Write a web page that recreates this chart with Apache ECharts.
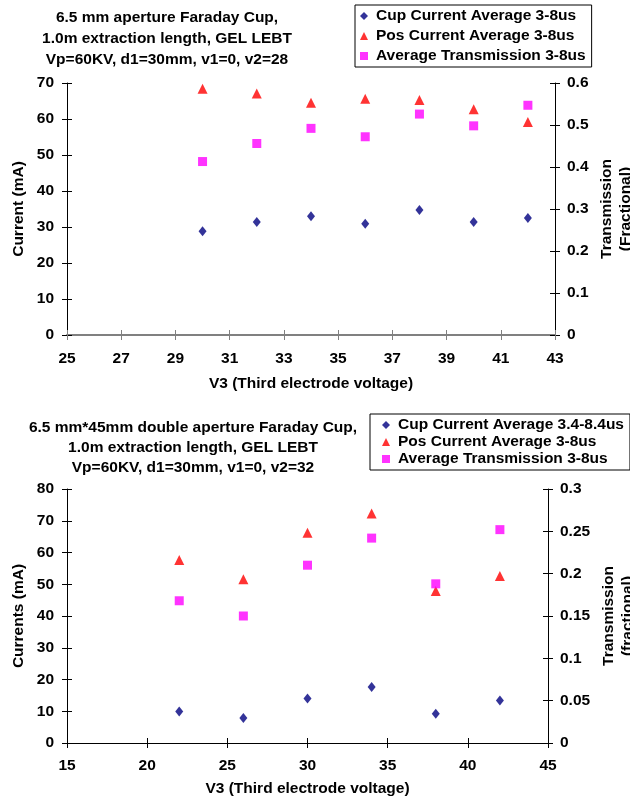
<!DOCTYPE html>
<html>
<head>
<meta charset="utf-8">
<script src="https://cdn.jsdelivr.net/npm/echarts@6/dist/echarts.min.js"></script>
<style>
  html, body { margin: 0; padding: 0; background: #fff; }
  #chart { width: 630px; height: 800px; }
</style>
</head>
<body>
<div id="chart"></div>
<script>
// Upper panel: 6.5 mm aperture cup, v2 = 28
const topV3 = [30, 32, 34, 36, 38, 40, 42];
const topCup = [28.8, 31.4, 33.0, 30.9, 34.7, 31.4, 32.5];
const topPos = [68.4, 67.1, 64.5, 65.6, 65.3, 62.7, 59.2];
const topTrans = [0.413, 0.456, 0.492, 0.472, 0.526, 0.498, 0.547];

// Lower panel: 6.5 mm * 45 mm double aperture cup, v2 = 32
const botV3 = [22, 26, 30, 34, 38, 42];
const botCup = [9.9, 7.9, 14.0, 17.6, 9.2, 13.4];
const botPos = [57.6, 51.6, 66.2, 72.3, 47.9, 52.6];
const botTrans = [0.168, 0.150, 0.210, 0.242, 0.188, 0.252];

const topTitle = ['6.5 mm aperture Faraday Cup,', '1.0m extraction length, GEL LEBT', 'Vp=60KV, d1=30mm, v1=0, v2=28'];
const botTitle = ['6.5 mm*45mm double aperture Faraday Cup,', '1.0m extraction length, GEL LEBT', 'Vp=60KV, d1=30mm, v1=0, v2=32'];

const topNames = ['Cup Current Average 3-8us', 'Pos Current Average 3-8us', 'Average Transmission 3-8us'];
const botNames = ['Cup Current Average 3.4-8.4us', 'Pos Current Average 3-8us', 'Average Transmission 3-8us'];

const FONT = '"Liberation Sans", Arial, sans-serif';
const FS = 15.5;
const NAVY = '#000080', RED = '#FF0000', MAGENTA = '#FF00FF';

const pairs = (xs, ys) => xs.map((x, i) => [x, ys[i]]);

const labelStyle = { fontFamily: FONT, fontWeight: 'bold', fontSize: FS, color: '#000' };

function valueAxis(gridIndex, min, max, interval, extra) {
  return Object.assign({
    type: 'value', gridIndex, min, max, interval,
    nameMoveOverlap: false,
    splitLine: { show: false },
    axisLine: { show: true, onZero: false, lineStyle: { color: '#000', width: 1 } },
    axisTick: { show: true, length: 5, lineStyle: { color: '#000' } },
    axisLabel: Object.assign({}, labelStyle),
    nameTextStyle: Object.assign({}, labelStyle, { lineHeight: 19 })
  }, extra || {});
}

// Inward ticks drawn on twin axes so every tick crosses its axis line
function innerTicks(base, colour) {
  return Object.assign({}, base, {
    name: '',
    axisLine: { show: false },
    axisLabel: { show: false },
    axisTick: { show: true, inside: true, length: 5, lineStyle: { color: colour } }
  });
}

const xTop = valueAxis(0, 25, 43, 2, {
  position: 'bottom',
  name: 'V3 (Third electrode voltage)', nameLocation: 'middle', nameGap: 39,
  axisLine: { show: true, onZero: false, lineStyle: { color: '#808080', width: 2 } },
  axisTick: { show: true, length: 5, lineStyle: { color: '#808080' } },
  axisLabel: Object.assign({}, labelStyle, { margin: 16 })
});
const xBot = valueAxis(1, 15, 45, 5, {
  position: 'bottom',
  name: 'V3 (Third electrode voltage)', nameLocation: 'middle', nameGap: 36,
  axisLabel: Object.assign({}, labelStyle, { margin: 15 })
});

const yTopL = valueAxis(0, 0, 70, 10, {
  position: 'left', name: 'Current (mA)', nameLocation: 'middle', nameGap: 39, nameRotate: 90,
  axisLabel: Object.assign({}, labelStyle, { margin: 13 })
});
const yTopR = valueAxis(0, 0, 0.6, 0.1, {
  position: 'right', name: 'Transmission\n(Fractional)', nameLocation: 'middle', nameGap: 42, nameRotate: 90,
  axisLabel: Object.assign({}, labelStyle, { margin: 12 })
});
const yBotL = valueAxis(1, 0, 80, 10, {
  position: 'left', name: 'Currents (mA)', nameLocation: 'middle', nameGap: 39, nameRotate: 90,
  axisLabel: Object.assign({}, labelStyle, { margin: 13 })
});
const yBotR = valueAxis(1, 0, 0.3, 0.05, {
  position: 'right', name: 'Transmission\n(fractional)', nameLocation: 'middle', nameGap: 51, nameRotate: 90,
  axisLabel: Object.assign({}, labelStyle, { margin: 12 })
});

function titleText(lines, cx, top, lh) {
  return lines.map((t, i) => ({
    type: 'text', x: cx, y: top + i * lh,
    style: { text: t, x: 0, y: 0, align: 'center', verticalAlign: 'middle',
      font: 'bold ' + FS + 'px ' + FONT, fill: '#000' }
  }));
}

function legend(names, left, top, gap, padLeft) {
  return {
    orient: 'vertical', left, top,
    data: [
      { name: names[0], icon: 'diamond' },
      { name: names[1], icon: 'triangle' },
      { name: names[2], icon: 'rect' }
    ],
    itemWidth: 8, itemHeight: 8, itemGap: gap,
    padding: [3, 6, 3, padLeft],
    borderColor: '#000', borderWidth: 1,
    textStyle: Object.assign({}, labelStyle, { padding: [0, 0, 0, 3] }),
    selectedMode: false
  };
}

const scatter = (name, xi, yi, data, symbol, size, color) => ({
  type: 'scatter', name, xAxisIndex: xi, yAxisIndex: yi, data, symbol, symbolSize: size,
  itemStyle: { color }, silent: true, animation: false
});

const chart = echarts.init(document.getElementById('chart'), null, { renderer: 'canvas' });
chart.setOption({
  backgroundColor: '#fff',
  animation: false,
  graphic: titleText(topTitle, 167, 18, 21).concat(titleText(botTitle, 193, 428, 20)),
  legend: [legend(topNames, 355, 5, 4, 5), legend(botNames, 370, 414, 1, 12)],
  grid: [
    { left: 67, right: 75, top: 83, height: 252, outerBoundsMode: 'none' },
    { left: 67, right: 82, top: 489, height: 254, outerBoundsMode: 'none' }
  ],
  xAxis: [xTop, xBot, innerTicks(xTop, '#808080'), innerTicks(xBot, '#000')],
  yAxis: [yTopL, yTopR, yBotL, yBotR,
    innerTicks(yTopL, '#000'), innerTicks(yTopR, '#000'),
    innerTicks(yBotL, '#000'), innerTicks(yBotR, '#000')],
  series: [
    scatter(topNames[0], 0, 0, pairs(topV3, topCup), 'diamond', [8, 10], NAVY),
    scatter(topNames[1], 0, 0, pairs(topV3, topPos), 'triangle', 10, RED),
    scatter(topNames[2], 0, 1, pairs(topV3, topTrans), 'rect', 9, MAGENTA),
    scatter(botNames[0], 1, 2, pairs(botV3, botCup), 'diamond', [8, 10], NAVY),
    scatter(botNames[1], 1, 2, pairs(botV3, botPos), 'triangle', 10, RED),
    scatter(botNames[2], 1, 3, pairs(botV3, botTrans), 'rect', 9, MAGENTA)
  ]
});
</script>
</body>
</html>
